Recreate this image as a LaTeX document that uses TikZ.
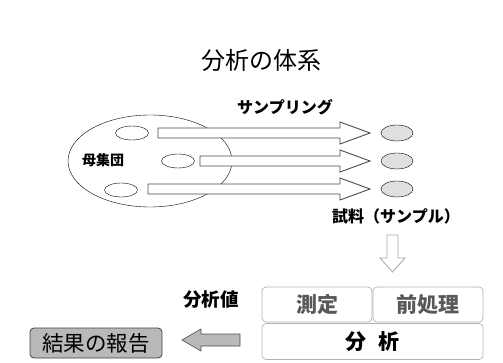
\documentclass[tikz,border=0pt]{standalone}
\usepackage{fontspec}
\usetikzlibrary{shapes.geometric}
\newfontfamily\cjk{Noto Sans CJK JP}
\begin{document}
\begin{tikzpicture}[x=1pt,y=-1pt,
  lbl/.style={font=\cjk\bfseries\fontsize{16}{18}\selectfont, inner sep=0pt},
  smallell/.style={draw, ellipse, minimum width=33pt, minimum height=14pt, inner sep=0pt},
  sampell/.style={draw, ellipse, fill=gray!25, minimum width=32pt, minimum height=16pt, inner sep=0pt},
  blockarrow/.style={draw=gray!60!black, fill=white, line width=0.9pt, line join=miter},
  stepbox/.style={draw=gray!60, rounded corners=4pt, line width=0.7pt, inner sep=0pt},
  boxtext/.style={font=\cjk\bfseries\fontsize{21}{24}\selectfont}
]
\useasboundingbox (0,0) rectangle (503,363);
% title
\node[font=\cjk\fontsize{24}{28}\selectfont, inner sep=0pt] (title) at (261,60) {分析の体系};
\node[lbl] (sampling) at (285,107) {サンプリング};
% population ellipse
\draw (150,161) ellipse [x radius=82pt, y radius=46pt];
\node[lbl, font=\cjk\bfseries\fontsize{14}{16}\selectfont] (pop) at (103,160) {母集団};
\node[smallell] (p1) at (132,133) {};
\node[smallell] (p2) at (178,161) {};
\node[smallell] (p3) at (121,190) {};
% samples
\node[sampell] (s1) at (397,133) {};
\node[sampell] (s2) at (397,161) {};
\node[sampell] (s3) at (397,189) {};
% block arrows
\foreach \xs/\yc in {158/133, 200/161, 148/189}{
  \draw[blockarrow] (\xs,\yc-5) -- (340,\yc-5) -- (340,\yc-11) -- (370,\yc) -- (340,\yc+11) -- (340,\yc+5) -- (\xs,\yc+5) -- cycle;
}
\node[lbl] (sample) at (396,216) {試料（サンプル）};
% hollow down arrow
\draw[draw=gray!70, line width=0.8pt, fill=white] (387,235) -- (398,235) -- (398,258) -- (405,258) -- (392.5,272) -- (380,258) -- (387,258) -- cycle;
% boxes
\node[stepbox, boxtext, minimum width=110pt, minimum height=35pt, text=gray!70!black] (meas) at (317,304.5) {測定};
\node[stepbox, boxtext, minimum width=110pt, minimum height=35pt, text=gray!70!black] (prep) at (428,304.5) {前処理};
\node[stepbox, boxtext, minimum width=221pt, minimum height=36pt] (anal) at (372.5,341.5) {分\hspace{12pt}析};
\node[lbl, font=\cjk\bfseries\fontsize{18.5}{21}\selectfont] (val) at (211,300) {分析値};
% gray left arrow
\draw[draw=gray!60!black, fill=gray!55, line width=0.6pt] (240,334) -- (201,334) -- (201,329) -- (182,340) -- (201,351) -- (201,346) -- (240,346) -- cycle;
\node[draw=gray!50!black, fill=gray!55, rounded corners=4pt, line width=0.8pt, minimum width=132pt, minimum height=30pt, inner sep=0pt, font=\cjk\fontsize{21.5}{24}\selectfont] (report) at (96,343) {結果の報告};
\end{tikzpicture}
\end{document}
